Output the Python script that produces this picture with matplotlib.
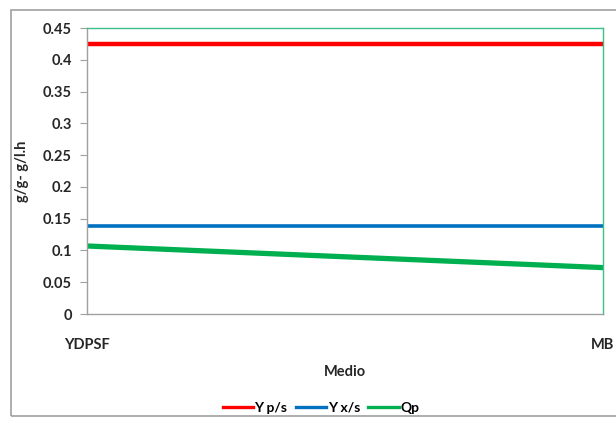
import matplotlib
matplotlib.use("Agg")
import matplotlib.pyplot as plt
from matplotlib.patches import Rectangle
from matplotlib.lines import Line2D

categories = ["YDPSF", "MB"]
y_ps = [0.425, 0.425]
y_xs = [0.138, 0.138]
qp = [0.107, 0.073]
y_ticks = [0, 0.05, 0.1, 0.15, 0.2, 0.25, 0.3, 0.35, 0.4, 0.45]
y_tick_labels = ["0", "0.05", "0.1", "0.15", "0.2", "0.25", "0.3", "0.35", "0.4", "0.45"]

plt.rcParams['font.family'] = ['Lato', 'DejaVu Sans']

fig = plt.figure(figsize=(6.16, 4.26), dpi=100)
fig.patch.set_facecolor("white")

# outer chart frame
fig.add_artist(Rectangle((11 / 616, 1 - 416 / 426), 1.2, (416 - 10) / 426,
                         transform=fig.transFigure, fill=False,
                         edgecolor="#a0a0a0", linewidth=1.2))

ax = fig.add_axes([87 / 616, 1 - 314 / 426, (603 - 87) / 616, (314 - 28) / 426])
x = list(range(len(categories)))
colors = ["#ff0000", "#0070c0", "#00b050"]
names = ["Y p/s", "Y x/s", "Qp"]
ax.plot(x, y_ps, color=colors[0], linewidth=3.2, solid_capstyle="butt")
ax.plot(x, y_xs, color=colors[1], linewidth=2.6, solid_capstyle="butt")
ax.plot(x, qp, color=colors[2], linewidth=3.8, solid_capstyle="butt")

ax.set_xlim(0, 1)
ax.set_ylim(0, 0.45)
ax.set_yticks(y_ticks)
ax.set_yticklabels(y_tick_labels, fontsize=10.5, fontweight="bold", color="#262626")
ax.set_xticks(x)
ax.set_xticklabels(categories, fontsize=10.5, fontweight="bold", color="#262626")
ax.tick_params(axis="x", length=0, pad=17)
ax.tick_params(axis="y", length=5, direction="out", color="#a0a0a0", pad=6)

for side in ["top", "right"]:
    ax.spines[side].set_color("#3cc08a")
    ax.spines[side].set_linewidth(1.0)
for side in ["left", "bottom"]:
    ax.spines[side].set_color("#a0a0a0")
    ax.spines[side].set_linewidth(1.0)

ax.set_xlabel("Medio", fontsize=10.5, fontweight="bold", color="#262626", labelpad=10)
ax.set_ylabel("g/g- g/l.h", fontsize=10.5, fontweight="bold", color="#262626", labelpad=10)

handles = [Line2D([0], [0], color=c, linewidth=2.4) for c in colors]
fig.legend(handles, names, loc="center", bbox_to_anchor=(321 / 616, 1 - 408 / 426), ncol=3,
           frameon=False, handlelength=2.2, handletextpad=0.1,
           columnspacing=0.6, prop={"weight": "bold", "size": 10})

fig.savefig("out.png", dpi=100)
